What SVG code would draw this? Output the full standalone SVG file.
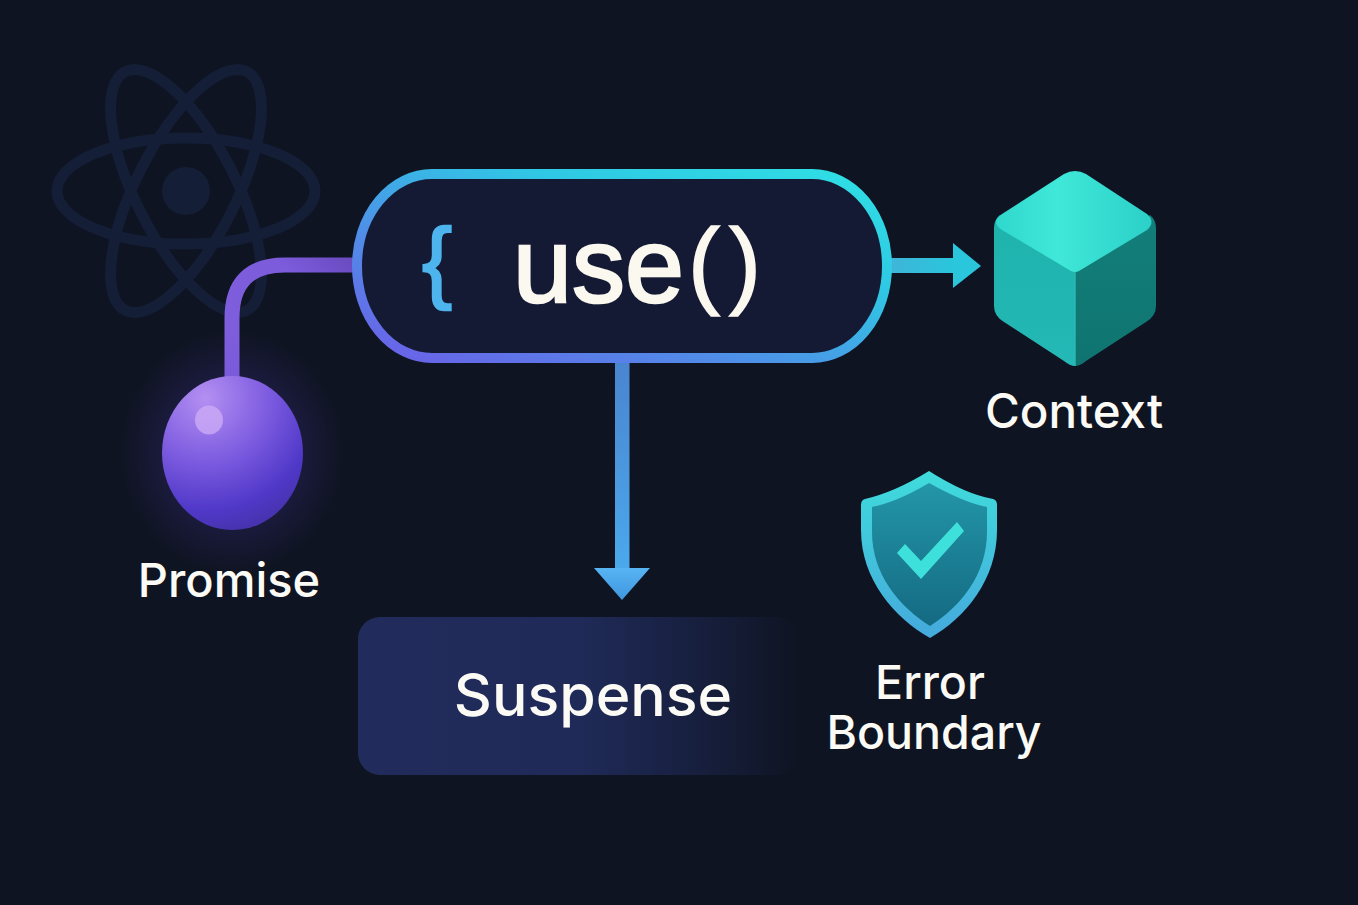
<svg xmlns="http://www.w3.org/2000/svg" width="1358" height="905" viewBox="0 0 1358 905">
<style>
text{font-family:"Inter","Liberation Sans",sans-serif;}
.label{fill:#fbfaf5;font-size:47.500px;font-weight:500;text-anchor:middle}
.atom{fill:none;stroke:#141e36;stroke-width:11}
.mono{font-family:"Liberation Sans",sans-serif;stroke-width:2.500px}
</style>
<defs>
<linearGradient id="pill" x1="0" y1="1" x2="1" y2="0"><stop offset="0" stop-color="#6c5ee8"/><stop offset=".35" stop-color="#4f8fe8"/><stop offset=".68" stop-color="#2fc8e4"/><stop offset="1" stop-color="#2fe0e4"/></linearGradient>
<linearGradient id="purpleLine" x1="0" y1="1" x2="1" y2="0"><stop offset="0" stop-color="#7f5fdc"/><stop offset=".7" stop-color="#7d5cdc"/><stop offset="1" stop-color="#6a4bc0"/></linearGradient>
<linearGradient id="downLine" x1="0" y1="0" x2="0" y2="1"><stop offset="0" stop-color="#4a84d0"/><stop offset="1" stop-color="#4ba9ec"/></linearGradient>
<linearGradient id="arrowDown" x1="0" y1="0" x2="0" y2="1"><stop offset="0" stop-color="#58b4f2"/><stop offset="1" stop-color="#3f96e0"/></linearGradient>
<linearGradient id="rightLine" x1="0" y1="0" x2="1" y2="0"><stop offset="0" stop-color="#3fb5d8"/><stop offset="1" stop-color="#29c6dc"/></linearGradient>
<radialGradient id="glow"><stop offset=".5" stop-color="#5a3fd0" stop-opacity=".2"/><stop offset="1" stop-color="#5a3fd0" stop-opacity="0"/></radialGradient>
<radialGradient id="ball" gradientUnits="userSpaceOnUse" cx="205" cy="398" r="150"><stop offset="0" stop-color="#b48ff2"/><stop offset=".42" stop-color="#7d5ce0"/><stop offset=".75" stop-color="#5038c8"/><stop offset="1" stop-color="#41309f"/></radialGradient>
<linearGradient id="top" x1="0" y1="0" x2="1" y2="0"><stop offset="0" stop-color="#2fd8cc"/><stop offset=".4" stop-color="#3fe8d8"/><stop offset="1" stop-color="#2bd0c8"/></linearGradient>
<linearGradient id="left" x1="0" y1="0" x2="0" y2="1"><stop offset="0" stop-color="#1fb3ad"/><stop offset="1" stop-color="#24b8b6"/></linearGradient>
<linearGradient id="right" x1="0" y1="0" x2="0" y2="1"><stop offset="0" stop-color="#137f7a"/><stop offset="1" stop-color="#0f7470"/></linearGradient>
<linearGradient id="shieldOuter" x1="0" y1="0" x2="0" y2="1"><stop offset="0" stop-color="#3fdcdc"/><stop offset="1" stop-color="#45a9dc"/></linearGradient>
<linearGradient id="shieldInner" x1="0" y1="0" x2="0" y2="1"><stop offset="0" stop-color="#2396a8"/><stop offset="1" stop-color="#146a82"/></linearGradient>
<linearGradient id="susp" x1="0" y1="0" x2="1" y2="0"><stop offset="0" stop-color="#222c5c"/><stop offset=".5" stop-color="#1f2a58"/><stop offset=".75" stop-color="#182040"/><stop offset="1" stop-color="#0f1422"/></linearGradient>
</defs>
<rect id="background" width="1358" height="905" fill="#0f1422"/>
<g id="react-logo">
<ellipse class="atom" cx="186" cy="191" rx="129" ry="53"/>
<ellipse class="atom" cx="186" cy="191" rx="134" ry="50" transform="rotate(63 186 191)"/>
<ellipse class="atom" cx="186" cy="191" rx="134" ry="50" transform="rotate(117 186 191)"/>
<circle cx="186" cy="191" r="24" fill="#141e36"/>
</g>
<g id="connectors">
<path d="M232 378V318Q232 265 285 265H356" fill="none" stroke="url(#purpleLine)" stroke-width="15"/>
<rect x="615" y="360" width="14.500" height="212" fill="url(#downLine)"/>
<path d="M594 568H650L622 600Z" fill="url(#arrowDown)"/>
<rect x="890" y="258" width="64" height="15" fill="url(#rightLine)"/>
<path d="M953 243L981 266L953 288Z" fill="#29c6dc"/>
</g>
<g id="use-node">
<rect x="357" y="174" width="530" height="184" rx="75" ry="92" fill="#141a33" stroke="url(#pill)" stroke-width="10"/>
<text class="mono" x="437" y="291" text-anchor="middle" fill="#4db4ee" stroke="#4db4ee" font-size="89">{</text>
<text class="mono" x="513" y="302" fill="#fbf8ef" stroke="#fbf8ef" font-size="106">use<tspan x="688 729" dy="-6" font-size="96" stroke-width="1.500">()</tspan></text>
</g>
<g id="promise-node">
<ellipse cx="232" cy="452" rx="112" ry="122" fill="url(#glow)"/>
<ellipse cx="232.500" cy="453" rx="70.500" ry="77" fill="url(#ball)"/>
<ellipse cx="209" cy="420" rx="14" ry="14.500" fill="#cfaef5" opacity=".75"/>
<text class="label" x="229" y="597" style="font-size:47px">Promise</text>
</g>
<g id="context-node">
<path d="M994 228Q994 220 1000 215L1075 270V366Q1070 366 1064 361L1004 322Q994 316 994 306Z" fill="url(#left)"/>
<path d="M1156 228Q1156 220 1150 215L1075 270V366Q1080 366 1086 361L1146 322Q1156 316 1156 306Z" fill="url(#right)"/>
<path d="M1075 272V366" stroke="#2ab8b0" stroke-width="1.500"/>
<path d="M1064 174Q1075 168 1086 174L1147 214Q1156 222 1147 230L1079 271Q1075 273 1071 271L1002 230Q990 222 1002 214Z" fill="url(#top)"/>
<text class="label" x="1074" y="428">Context</text>
</g>
<g id="error-boundary-node">
<path d="M929 471Q965 494 993 499Q997 500 997 505V530C997 580 965 618 930 638C895 618 861 580 861 530V505Q861 500 865 499Q895 492 929 471Z" fill="url(#shieldOuter)"/>
<path d="M929 483Q965 503 987 507V532C987 575 960 607 930 626C900 607 872 575 872 532V507Q897 502 929 483Z" fill="url(#shieldInner)"/>
<path d="M905 544L921 561L957 522L964 531L921 579L897 553Z" fill="#3ee0dc"/>
<text class="label" style="font-size:46.500px"><tspan x="930" y="699">Error</tspan><tspan x="934" y="749">Boundary</tspan></text>
</g>
<g id="suspense-node">
<rect x="358" y="617" width="442" height="158" rx="22" fill="url(#susp)"/>
<text class="label" x="593" y="716" style="font-size:59px">Suspense</text>
</g>
</svg>
